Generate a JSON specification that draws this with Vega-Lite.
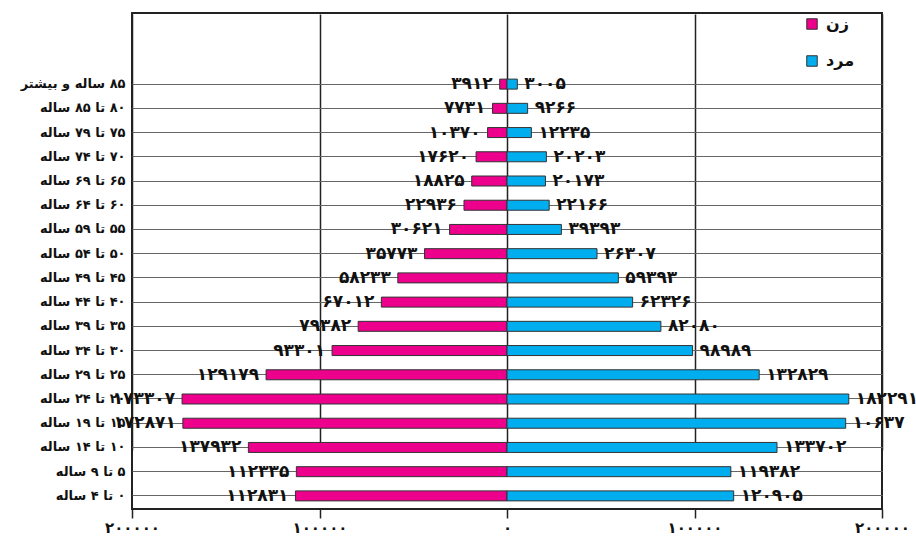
{
  "$schema": "https://vega.github.io/schema/vega-lite/v6.json",
  "width": 750,
  "height": 496,
  "autosize": {"type": "none"},
  "padding": {"left": 132, "top": 13, "right": 34, "bottom": 28},
  "background": "white",
  "config": {
    "view": {"stroke": "#222", "strokeWidth": 2},
    "font": "DejaVu Sans"
  },
  "data": {
    "values": [
      {"age": "۸۵ ساله و بیشتر", "sex": "زن", "value": -3912, "label": "۳۹۱۲"},
      {"age": "۸۰ تا ۸۵ ساله", "sex": "زن", "value": -7731, "label": "۷۷۳۱"},
      {"age": "۷۵ تا ۷۹ ساله", "sex": "زن", "value": -10370, "label": "۱۰۳۷۰"},
      {"age": "۷۰ تا ۷۴ ساله", "sex": "زن", "value": -16500, "label": "۱۷۶۲۰"},
      {"age": "۶۵ تا ۶۹ ساله", "sex": "زن", "value": -18825, "label": "۱۸۸۲۵"},
      {"age": "۶۰ تا ۶۴ ساله", "sex": "زن", "value": -22936, "label": "۲۲۹۳۶"},
      {"age": "۵۵ تا ۵۹ ساله", "sex": "زن", "value": -30621, "label": "۳۰۶۲۱"},
      {"age": "۵۰ تا ۵۴ ساله", "sex": "زن", "value": -44000, "label": "۳۵۷۷۳"},
      {"age": "۴۵ تا ۴۹ ساله", "sex": "زن", "value": -58233, "label": "۵۸۲۳۳"},
      {"age": "۴۰ تا ۴۴ ساله", "sex": "زن", "value": -67012, "label": "۶۷۰۱۲"},
      {"age": "۳۵ تا ۳۹ ساله", "sex": "زن", "value": -79382, "label": "۷۹۳۸۲"},
      {"age": "۳۰ تا ۳۴ ساله", "sex": "زن", "value": -93301, "label": "۹۳۳۰۱"},
      {"age": "۲۵ تا ۲۹ ساله", "sex": "زن", "value": -128500, "label": "۱۲۹۱۷۹"},
      {"age": "۲۰ تا ۲۴ ساله", "sex": "زن", "value": -173307, "label": "۱۷۳۳۰۷"},
      {"age": "۱۵ تا ۱۹ ساله", "sex": "زن", "value": -172871, "label": "۱۷۲۸۷۱"},
      {"age": "۱۰ تا ۱۴ ساله", "sex": "زن", "value": -137932, "label": "۱۳۷۹۳۲"},
      {"age": "۵ تا ۹ ساله", "sex": "زن", "value": -112335, "label": "۱۱۲۳۳۵"},
      {"age": "۰ تا ۴ ساله", "sex": "زن", "value": -112831, "label": "۱۱۲۸۳۱"},
      {"age": "۸۵ ساله و بیشتر", "sex": "مرد", "value": 5500, "label": "۳۰۰۵"},
      {"age": "۸۰ تا ۸۵ ساله", "sex": "مرد", "value": 11000, "label": "۹۲۶۶"},
      {"age": "۷۵ تا ۷۹ ساله", "sex": "مرد", "value": 13000, "label": "۱۲۲۳۵"},
      {"age": "۷۰ تا ۷۴ ساله", "sex": "مرد", "value": 21000, "label": "۲۰۲۰۳"},
      {"age": "۶۵ تا ۶۹ ساله", "sex": "مرد", "value": 20500, "label": "۲۰۱۷۳"},
      {"age": "۶۰ تا ۶۴ ساله", "sex": "مرد", "value": 22500, "label": "۲۲۱۶۶"},
      {"age": "۵۵ تا ۵۹ ساله", "sex": "مرد", "value": 29000, "label": "۳۹۳۹۳"},
      {"age": "۵۰ تا ۵۴ ساله", "sex": "مرد", "value": 48000, "label": "۲۶۳۰۷"},
      {"age": "۴۵ تا ۴۹ ساله", "sex": "مرد", "value": 59393, "label": "۵۹۳۹۳"},
      {"age": "۴۰ تا ۴۴ ساله", "sex": "مرد", "value": 67000, "label": "۶۲۳۲۶"},
      {"age": "۳۵ تا ۳۹ ساله", "sex": "مرد", "value": 82080, "label": "۸۲۰۸۰"},
      {"age": "۳۰ تا ۳۴ ساله", "sex": "مرد", "value": 98989, "label": "۹۸۹۸۹"},
      {"age": "۲۵ تا ۲۹ ساله", "sex": "مرد", "value": 134500, "label": "۱۳۲۸۲۹"},
      {"age": "۲۰ تا ۲۴ ساله", "sex": "مرد", "value": 182291, "label": "۱۸۲۲۹۱"},
      {"age": "۱۵ تا ۱۹ ساله", "sex": "مرد", "value": 180637, "label": "۱۰۶۳۷"},
      {"age": "۱۰ تا ۱۴ ساله", "sex": "مرد", "value": 144000, "label": "۱۳۳۷۰۲"},
      {"age": "۵ تا ۹ ساله", "sex": "مرد", "value": 119382, "label": "۱۱۹۳۸۲"},
      {"age": "۰ تا ۴ ساله", "sex": "مرد", "value": 120905, "label": "۱۲۰۹۰۵"}
    ]
  },
  "encoding": {
    "y": {
      "field": "age",
      "type": "nominal",
      "sort": null,
      "scale": {"range": [59, 495], "paddingInner": 0, "paddingOuter": 0},
      "axis": {
        "title": null,
        "domain": false,
        "ticks": false,
        "grid": true,
        "bandPosition": 0.5,
        "gridColor": "#666",
        "gridWidth": 1,
        "labelExpr": "'\u202b' + datum.label + '\u202c'",
        "labelFont": "DejaVu Sans",
        "labelFontWeight": "bold",
        "labelFontSize": 13,
        "labelColor": "#111",
        "labelPadding": 7
      }
    }
  },
  "layer": [
    {
      "mark": {"type": "bar", "size": 10, "stroke": "#333", "strokeWidth": 1},
      "encoding": {
        "x": {
          "field": "value",
          "type": "quantitative",
          "scale": {"domain": [-200000, 200000], "nice": false, "zero": false},
          "axis": {
            "title": null,
            "values": [-200000, -100000, 0, 100000, 200000],
            "labelExpr": "datum.value == 0 ? '۰' : (abs(datum.value) == 100000 ? '۱۰۰۰۰۰' : '۲۰۰۰۰۰')",
            "labelFlush": false,
            "labelOverlap": false,
            "grid": true,
            "gridColor": "#222",
            "gridWidth": 1.5,
            "domain": false,
            "tickColor": "#222",
            "tickWidth": 1.5,
            "tickSize": 9,
            "labelPadding": 2,
            "labelFont": "DejaVu Sans",
            "labelFontSize": 15,
            "labelFontWeight": "bold",
            "labelColor": "#111"
          }
        },
        "color": {
          "field": "sex",
          "type": "nominal",
          "scale": {"domain": ["زن", "مرد"], "range": ["#EC008C", "#00AEEF"]},
          "legend": {
            "title": null,
            "orient": "none",
            "legendX": 672,
            "legendY": 3,
            "symbolType": "square",
            "symbolSize": 110,
            "symbolStrokeColor": "#333",
            "symbolStrokeWidth": 1,
            "labelFont": "DejaVu Sans",
            "labelFontSize": 16,
            "labelFontWeight": "bold",
            "labelColor": "#111",
            "rowPadding": 21,
            "labelOffset": 6
          }
        }
      }
    },
    {
      "transform": [{"filter": "datum.sex == 'زن'"}],
      "mark": {"type": "text", "align": "right", "baseline": "middle", "dx": -7, "font": "DejaVu Sans", "fontWeight": "bold", "fontSize": 17, "color": "#111"},
      "encoding": {
        "x": {"field": "value", "type": "quantitative"},
        "text": {"field": "label"}
      }
    },
    {
      "transform": [{"filter": "datum.sex == 'مرد'"}],
      "mark": {"type": "text", "align": "left", "baseline": "middle", "dx": 7, "font": "DejaVu Sans", "fontWeight": "bold", "fontSize": 17, "color": "#111"},
      "encoding": {
        "x": {"field": "value", "type": "quantitative"},
        "text": {"field": "label"}
      }
    }
  ]
}
